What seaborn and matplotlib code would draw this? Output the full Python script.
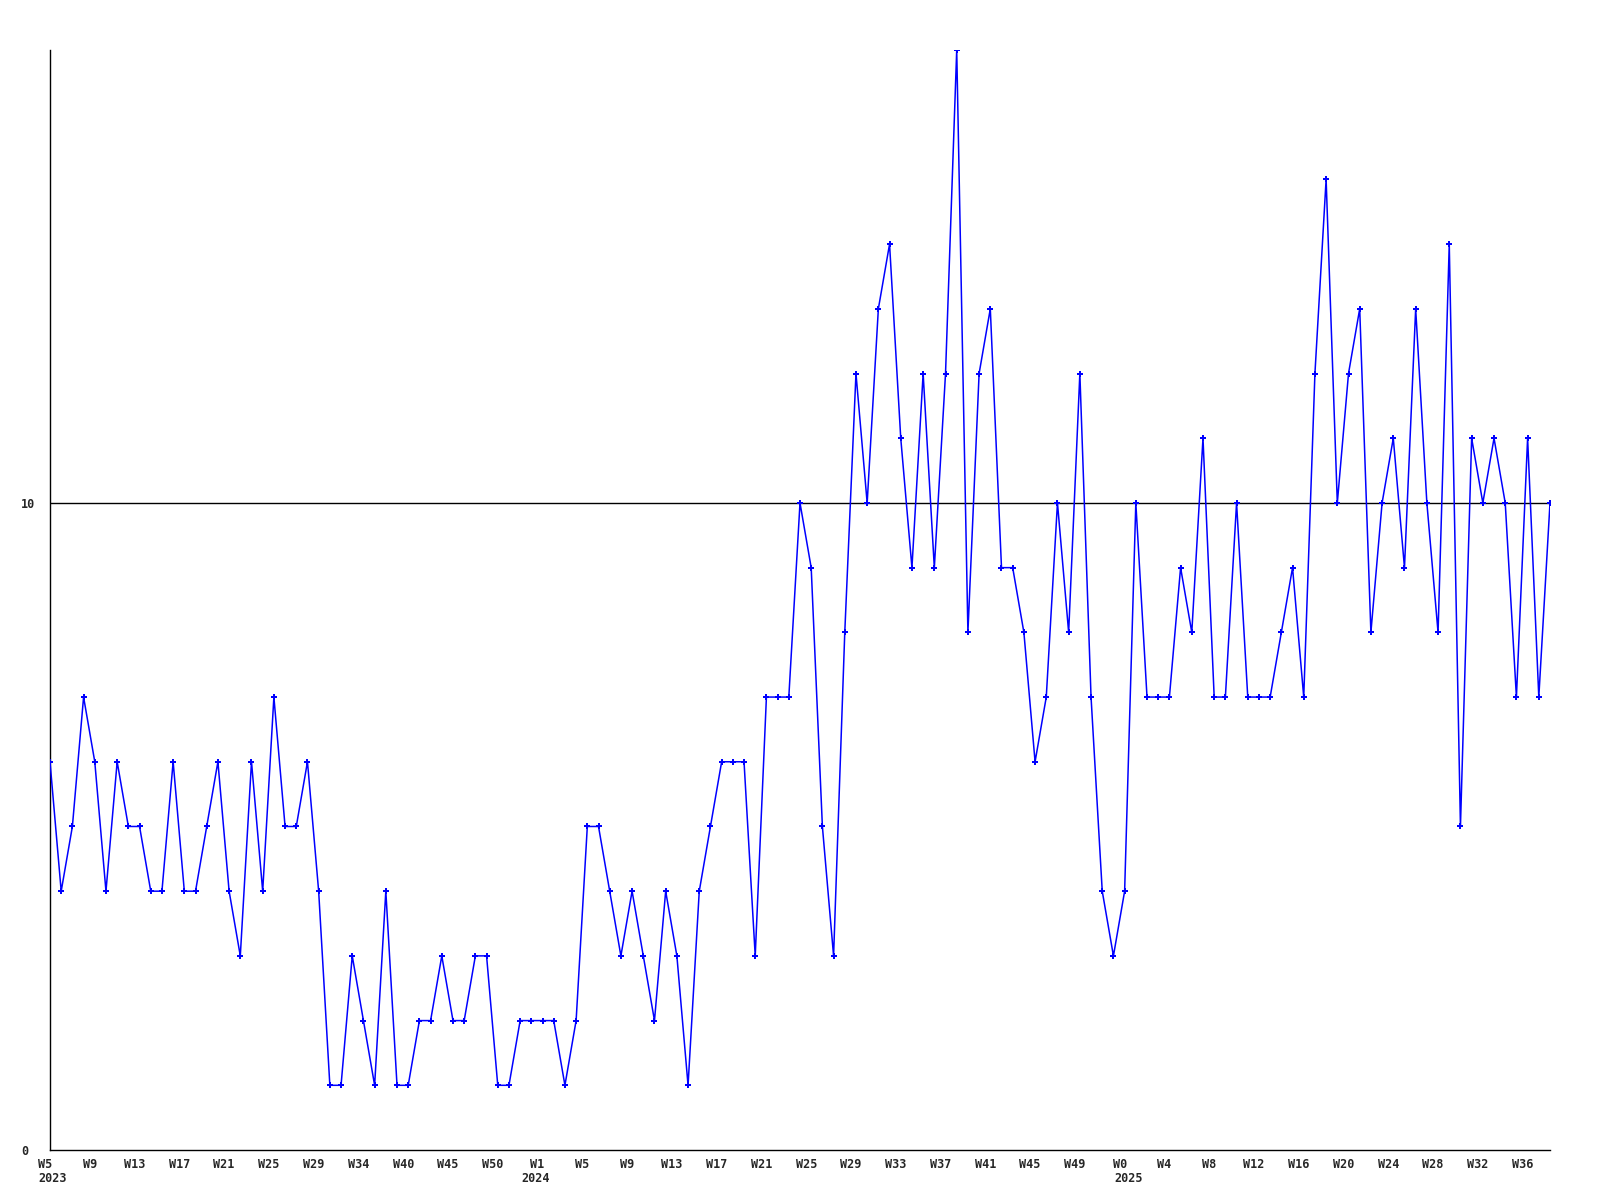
import numpy as np
import pandas as pd
import matplotlib
matplotlib.use("Agg")
import matplotlib.pyplot as plt
import matplotlib.transforms as mtransforms
import seaborn as sns

# weekly counts, W5 2023 .. W37 2025
counts = [6, 4, 5, 7, 6, 4, 6, 5, 5, 4, 4, 6, 4, 4, 5, 6, 4, 3, 6, 4,
          7, 5, 5, 6, 4, 1, 1, 3, 2, 1, 4, 1, 1, 2, 2, 3, 2, 2, 3, 3,
          1, 1, 2, 2, 2, 2, 1, 2, 5, 5, 4, 3, 4, 3, 2, 4, 3, 1, 4, 5,
          6, 6, 6, 3, 7, 7, 7, 10, 9, 5, 3, 8, 12, 10, 13, 14, 11, 9, 12, 9,
          12, 17, 8, 12, 13, 9, 9, 8, 6, 7, 10, 8, 12, 7, 4, 3, 4, 10, 7, 7,
          7, 9, 8, 11, 7, 7, 10, 7, 7, 7, 8, 9, 7, 12, 15, 10, 12, 13, 8, 10,
          11, 9, 13, 10, 8, 14, 5, 11, 10, 11, 10, 7, 11, 7, 10]

# tick every 4th week
week_labels = ["W5", "W9", "W13", "W17", "W21", "W25", "W29", "W34", "W40", "W45",
               "W50", "W1", "W5", "W9", "W13", "W17", "W21", "W25", "W29", "W33",
               "W37", "W41", "W45", "W49", "W0", "W4", "W8", "W12", "W16", "W20",
               "W24", "W28", "W32", "W36"]
year_ticks = [0, 11, 24]
year_labels = ["2023", "2024", "2025"]

y_ticks = [0, 10]

df = pd.DataFrame({"idx": range(len(counts)), "count": counts})

sns.set_style("white")
plt.rcParams["font.family"] = ["DejaVu Sans Mono"]

fig = plt.figure(figsize=(16, 12), dpi=100)
ax = fig.add_axes([50 / 1600, 50 / 1200, 1500 / 1600, 1100 / 1200])

sns.lineplot(data=df, x="idx", y="count", ax=ax, color="#0000ff", linewidth=1.1,
             marker="P", markersize=4.5, markeredgewidth=0, zorder=3)

ax.axhline(10, color="black", linewidth=1, zorder=2)

ax.set_xlim(0, len(counts) - 1)
ax.set_ylim(0, 17)

tick_pos = list(range(0, len(counts), 4))[:len(week_labels)]
ax.set_xticks(tick_pos)
ax.set_xticklabels(week_labels, fontsize=8.5, fontweight="bold")
ax.tick_params(axis="both", length=0)
ax.tick_params(axis="x", pad=6)
ax.tick_params(axis="y", pad=21)

# nudge week labels a little to the left
shift = mtransforms.ScaledTranslation(-5 / 100, 0, fig.dpi_scale_trans)
for lbl in ax.xaxis.get_majorticklabels():
    lbl.set_transform(lbl.get_transform() + shift)

# year under the first week of each year
year_off = [-11, -21, -10]
for ti, yl, off in zip(year_ticks, year_labels, year_off):
    ax.annotate(yl, xy=(tick_pos[ti], 0), xycoords=("data", "axes fraction"),
                xytext=(off * 0.735, -15.5), textcoords="offset points",
                ha="left", va="top", fontsize=8.5, fontweight="bold",
                annotation_clip=False)

ax.set_yticks(y_ticks)
ax.set_yticklabels([str(t) for t in y_ticks], fontsize=8.5, fontweight="bold",
                   ha="left")

ax.set_xlabel("")
ax.set_ylabel("")
for side in ["top", "right"]:
    ax.spines[side].set_visible(False)
for side in ["left", "bottom"]:
    ax.spines[side].set_color("black")
    ax.spines[side].set_linewidth(1)
ax.grid(False)

fig.savefig("out.png", dpi=100, facecolor="white")
plt.close(fig)
